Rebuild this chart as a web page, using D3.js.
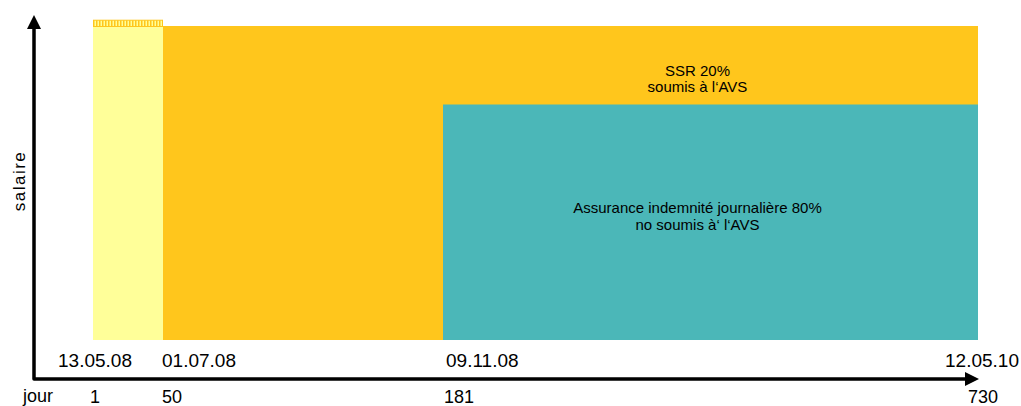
<!DOCTYPE html>
<html>
<head>
<meta charset="utf-8">
<script src="https://cdn.jsdelivr.net/npm/d3@7"></script>
<style>
  body { margin: 0; background: #fff; }
  text { font-family: Arial, "Liberation Sans", sans-serif; fill: #000; }
</style>
</head>
<body>
<svg id="chart"></svg>
<script>
// day ticks and their dates
const days = [1, 50, 181, 730];
const dates = ["13.05.08", "01.07.08", "09.11.08", "12.05.10"];

// blocks: start day, end day, low %, high %
const blockNames = ["base", "ssr", "assurance"];
const blockStart = [1, 50, 181];
const blockEnd = [50, 730, 730];
const blockLow = [0, 0, 0];
const blockHigh = [100, 100, 75];

// small hatched strip on top of the first block
const hatchRange = [100, 102];

const ssrLines = ["SSR 20%", "soumis à l‘AVS"];
const assLines = ["Assurance indemnité journalière 80%", "no soumis à‘ l‘AVS"];

const colors = { base: "#ffff99", ssr: "#ffc61c", assurance: "#4bb7b8" };

const W = 1021, H = 406;
const svg = d3.select("#chart").attr("width", W).attr("height", H);

// piecewise scale: the day axis is not drawn to proportion
const x = d3.scaleLinear().domain(days).range([93, 163, 443, 978]);
const y = d3.scaleLinear().domain([0, 100]).range([340, 26]);

// hatch pattern
const defs = svg.append("defs");
const pat = defs.append("pattern")
  .attr("id", "hatch")
  .attr("patternUnits", "userSpaceOnUse")
  .attr("width", 3).attr("height", 10);
pat.append("rect").attr("width", 3).attr("height", 10).attr("fill", "#ffff99");
pat.append("rect").attr("width", 1.5).attr("height", 10).attr("fill", "#ffc61c");

// blocks
svg.selectAll("rect.block")
  .data(blockNames)
  .enter()
  .append("rect")
  .attr("class", "block")
  .attr("x", (d, i) => x(blockStart[i]))
  .attr("y", (d, i) => y(blockHigh[i]))
  .attr("width", (d, i) => x(blockEnd[i]) - x(blockStart[i]))
  .attr("height", (d, i) => y(blockLow[i]) - y(blockHigh[i]))
  .attr("fill", d => colors[d]);

// hatched strip
svg.append("rect")
  .attr("x", x(days[0]) + 0.5)
  .attr("y", y(hatchRange[1]) + 0.5)
  .attr("width", x(days[1]) - x(days[0]) - 1)
  .attr("height", y(hatchRange[0]) - y(hatchRange[1]))
  .attr("fill", "url(#hatch)")
  .attr("stroke", "#ffc61c")
  .attr("stroke-width", 1);

// block texts
const midX = (x(181) + x(730)) / 2 - 13;
svg.append("g").selectAll("text")
  .data(ssrLines)
  .enter().append("text")
  .attr("x", midX)
  .attr("y", (d, i) => 76 + i * 16)
  .attr("text-anchor", "middle")
  .style("font-size", "15px")
  .text(d => d);

svg.append("g").selectAll("text")
  .data(assLines)
  .enter().append("text")
  .attr("x", midX)
  .attr("y", (d, i) => 213 + i * 17)
  .attr("text-anchor", "middle")
  .style("font-size", "15px")
  .text(d => d);

// axes with arrow heads
const axisX0 = 34, axisY0 = 379;
svg.append("path")
  .attr("d", `M${axisX0},28 L${axisX0},${axisY0} L966,${axisY0}`)
  .attr("fill", "none")
  .attr("stroke", "#000")
  .attr("stroke-width", 3.5)
  .attr("stroke-linejoin", "round");
svg.append("path")
  .attr("d", `M${axisX0},15 L${axisX0 - 7},29 L${axisX0 + 7},29 Z`)
  .attr("fill", "#000");
svg.append("path")
  .attr("d", `M979,${axisY0} L965,${axisY0 - 7} L965,${axisY0 + 7} Z`)
  .attr("fill", "#000");

// date labels
const dateAnchor = ["middle", "start", "start", "middle"];
const dateShift = [2, -1, 3, 4];
svg.append("g").selectAll("text")
  .data(dates)
  .enter().append("text")
  .attr("x", (d, i) => x(days[i]) + dateShift[i])
  .attr("y", 367)
  .attr("text-anchor", (d, i) => dateAnchor[i])
  .style("font-size", "19px")
  .text(d => d);

// day labels
const dayAnchor = ["middle", "start", "start", "middle"];
const dayShift = [2, -1, 1, 5];
svg.append("g").selectAll("text")
  .data(days)
  .enter().append("text")
  .attr("x", (d, i) => x(d) + dayShift[i])
  .attr("y", 403)
  .attr("text-anchor", (d, i) => dayAnchor[i])
  .style("font-size", "18px")
  .text(d => d);

svg.append("text")
  .attr("x", 23).attr("y", 402)
  .style("font-size", "18px")
  .text("jour");

svg.append("text")
  .attr("transform", "translate(25,181) rotate(-90)")
  .attr("text-anchor", "middle")
  .style("font-size", "17px")
  .style("letter-spacing", "1.5px")
  .text("salaire");
</script>
</body>
</html>
